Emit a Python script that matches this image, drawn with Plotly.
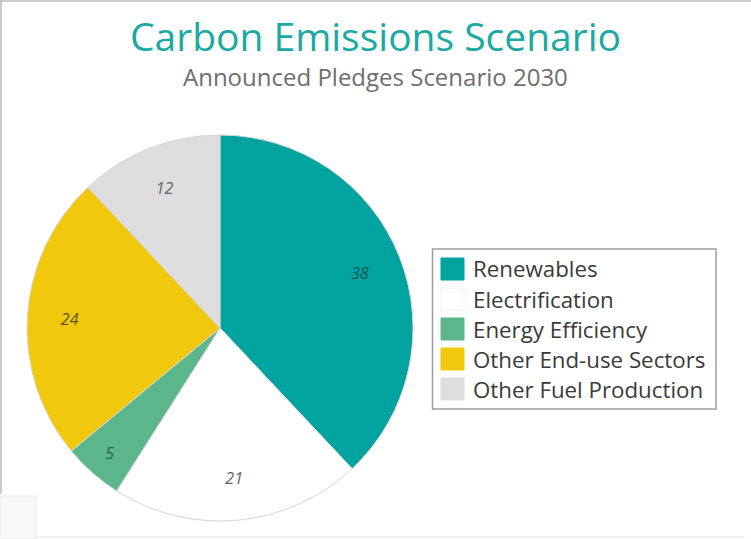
import plotly.graph_objects as go

categories = ["Renewables", "Electrification", "Energy Efficiency", "Other End-use Sectors", "Other Fuel Production"]
values = [38, 21, 5, 24, 12]
slice_colors = ["#00A39F", "#FFFFFF", "#5BB78B", "#F2C80F", "#DEDEDE"]
label_colors = ["#0D5654", "#666666", "#2C5E46", "#5E5217", "#666666"]
title_text = "Carbon Emissions Scenario"
subtitle_text = "Announced Pledges Scenario 2030"

W, H = 751, 539
CX, CY, R = 220, 328, 193
dom = dict(x=[(CX - R) / W, (CX + R) / W], y=[1 - (CY + R) / H, 1 - (CY - R) / H])


def px(x):
    return x / W


def py(y):
    return 1 - y / H


fig = go.Figure()
# the slices
fig.add_trace(go.Pie(
    labels=categories, values=values, sort=False, direction="clockwise", rotation=0,
    marker=dict(colors=slice_colors, line=dict(color="#D6D6D6", width=1)),
    textinfo="none", hoverinfo="label+value", showlegend=False, domain=dom,
))
# transparent ring carrying the value labels near the rim
fig.add_trace(go.Pie(
    labels=categories, values=values, sort=False, direction="clockwise", rotation=0,
    hole=0.56,
    marker=dict(colors=["rgba(0,0,0,0)"] * len(values), line=dict(width=0)),
    textinfo="value", textposition="inside", insidetextorientation="horizontal",
    textfont=dict(family="Open Sans", size=16, color=label_colors, style="italic"),
    hoverinfo="skip", showlegend=False, domain=dom,
))

shapes = [
    # outer frame pieces
    dict(type="line", xref="paper", yref="paper", x0=0, x1=1, y0=py(1), y1=py(1),
         line=dict(color="#BDBDBD", width=1.5)),
    dict(type="line", xref="paper", yref="paper", x0=px(1), x1=px(1), y0=py(0), y1=py(494),
         line=dict(color="#BDBDBD", width=1.5)),
    dict(type="line", xref="paper", yref="paper", x0=px(36), x1=px(745), y0=py(537), y1=py(537),
         line=dict(color="#E6E6E6", width=1)),
    # small panel at bottom-left
    dict(type="rect", xref="paper", yref="paper", x0=0, x1=px(36), y0=0, y1=py(496),
         fillcolor="#F8F8F8", line=dict(color="#E8E8E8", width=1)),
    # legend box
    dict(type="rect", xref="paper", yref="paper", x0=px(432.5), x1=px(716), y0=py(409), y1=py(249),
         fillcolor="rgba(0,0,0,0)", line=dict(color="#9E9E9E", width=1.5)),
]
annotations = [
    dict(text=subtitle_text, x=0.5, y=py(76), xref="paper", yref="paper", showarrow=False,
         xanchor="center", yanchor="middle", font=dict(family="Open Sans", size=24, color="#6E6E6E")),
]
for i, (name, col) in enumerate(zip(categories, slice_colors)):
    yc = 269 + 30 * i
    shapes.append(dict(type="rect", xref="paper", yref="paper", x0=px(441), x1=px(464),
                       y0=py(yc + 11), y1=py(yc - 11), fillcolor=col,
                       line=dict(color="#F0F0F0" if col == "#FFFFFF" else col, width=1)))
    annotations.append(dict(text=name, x=px(471), y=py(yc), xref="paper", yref="paper",
                            showarrow=False, xanchor="left", yanchor="middle",
                            font=dict(family="Open Sans", size=22.3, color="#3A3A3A")))

fig.update_layout(
    width=W, height=H,
    margin=dict(l=0, r=0, t=0, b=0),
    paper_bgcolor="white",
    font=dict(family="Open Sans"),
    title=dict(text=title_text, x=0.5, xanchor="center", y=py(37), yanchor="middle",
               font=dict(family="Open Sans", size=39, color="#1AA9A3")),
    annotations=annotations,
    shapes=shapes,
    showlegend=False,
)

fig.write_html("out.html", config={"displayModeBar": False},
               post_script="document.body.style.margin='0';document.body.style.overflow='hidden';")
